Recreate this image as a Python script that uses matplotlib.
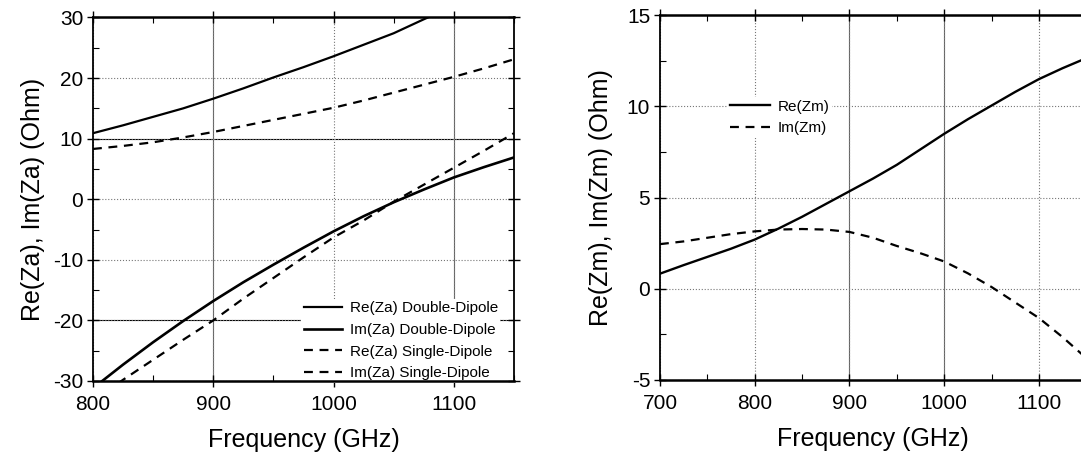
import matplotlib
matplotlib.use("Agg")
import matplotlib.pyplot as plt
from matplotlib.ticker import MultipleLocator

plt.rcParams['font.family'] = ['Liberation Sans', 'DejaVu Sans']
plt.rcParams['axes.unicode_minus'] = False

# left panel: antenna impedance Za
freq_a = [800, 825, 850, 875, 900, 925, 950, 975, 1000, 1025, 1050, 1075, 1100, 1125, 1150]
re_za_double = [10.9, 12.2, 13.6, 15.0, 16.6, 18.3, 20.1, 21.8, 23.6, 25.5, 27.4, 29.7, 31.9, 34.1, 36.4]
im_za_double = [-31.2, -27.3, -23.6, -20.1, -16.8, -13.7, -10.8, -8.0, -5.3, -2.8, -0.5, 1.6, 3.6, 5.3, 6.9]
re_za_single = [8.3, 8.8, 9.4, 10.2, 11.1, 12.1, 13.1, 14.1, 15.1, 16.3, 17.6, 18.9, 20.2, 21.6, 23.1]
im_za_single = [-33.4, -29.8, -26.5, -23.2, -20.0, -16.4, -13.0, -9.6, -6.3, -3.5, -0.4, 2.4, 5.2, 8.0, 10.9]
labels_a = ['Re(Za) Double-Dipole', 'Im(Za) Double-Dipole',
            'Re(Za) Single-Dipole', 'Im(Za) Single-Dipole']

# right panel: mutual impedance Zm
freq_m = [700, 725, 750, 775, 800, 825, 850, 875, 900, 925, 950, 975, 1000, 1025, 1050, 1075, 1100, 1125, 1150]
re_zm = [0.83, 1.3, 1.75, 2.2, 2.7, 3.3, 3.95, 4.65, 5.35, 6.05, 6.8, 7.65, 8.5, 9.3, 10.05, 10.8, 11.5, 12.1, 12.65]
im_zm = [2.45, 2.6, 2.8, 3.0, 3.15, 3.25, 3.28, 3.25, 3.12, 2.8, 2.35, 1.95, 1.5, 0.85, 0.1, -0.75, -1.6, -2.65, -3.8]
labels_m = ['Re(Zm)', 'Im(Zm)']

fig = plt.figure(figsize=(10.81, 4.54), dpi=100)
ax1 = fig.add_axes([0.0860, 0.1608, 0.3895, 0.8007])
ax2 = fig.add_axes([0.6105, 0.1630, 0.3944, 0.8033])

dash = (0, (4, 3))


def style(ax, right=True):
    for side in ['top', 'bottom', 'left', 'right']:
        ax.spines[side].set_linewidth(1.3)
    ax.spines['top'].set_linewidth(1.8)
    ax.spines['bottom'].set_linewidth(1.8)
    ax.tick_params(which='major', direction='inout', length=8, width=1.0,
                   labelsize=15, top=True, right=right)
    ax.tick_params(which='minor', direction='in', length=4, width=0.8,
                   top=True, right=right)
    ax.tick_params(axis='x', which='major', pad=6)
    ax.tick_params(axis='y', which='major', pad=3)
    ax.grid(True, which='major', color='#777777', linestyle=':', linewidth=0.8)


def legend(ax, anchor, handlelength):
    leg = ax.legend(loc='upper left', bbox_to_anchor=anchor, frameon=True,
                    fontsize=11, handlelength=handlelength, handletextpad=0.5,
                    labelspacing=0.5, borderpad=0.15, borderaxespad=0,
                    fancybox=False, framealpha=1)
    leg.get_frame().set_edgecolor('none')
    leg.get_frame().set_facecolor('white')
    leg.set_zorder(2.2)  # under the spines and ticks


# left
ax1.plot(freq_a, re_za_double, color='black', lw=1.6, label=labels_a[0])
ax1.plot(freq_a, im_za_double, color='black', lw=1.9, label=labels_a[1])
ax1.plot(freq_a, re_za_single, color='black', lw=1.6, linestyle=dash, label=labels_a[2])
ax1.plot(freq_a, im_za_single, color='black', lw=1.6, linestyle=dash, label=labels_a[3])
ax1.set_xlim(800, 1150)
ax1.set_ylim(-30, 30)
ax1.xaxis.set_major_locator(MultipleLocator(100))
ax1.xaxis.set_minor_locator(MultipleLocator(50))
ax1.yaxis.set_major_locator(MultipleLocator(10))
ax1.yaxis.set_minor_locator(MultipleLocator(5))
style(ax1)
# scanned grid: some lines come out solid
ax1.axhline(10, color='black', lw=0.8, zorder=1)
ax1.axhline(-20, color='black', lw=0.8, zorder=1)
ax1.axvline(900, color='#666666', lw=0.8, zorder=1)
ax1.axvline(1100, color='#666666', lw=0.8, zorder=1)
ax1.set_xlabel('Frequency (GHz)', fontsize=18, labelpad=10)
ax1.set_ylabel('Re(Za), Im(Za) (Ohm)', fontsize=18, labelpad=6)
legend(ax1, (0.495, 0.225), 2.5)

# right
ax2.plot(freq_m, re_zm, color='black', lw=1.7, label=labels_m[0])
ax2.plot(freq_m, im_zm, color='black', lw=1.6, linestyle=dash, label=labels_m[1])
ax2.set_xlim(700, 1150)
ax2.set_ylim(-5, 15)
ax2.xaxis.set_major_locator(MultipleLocator(100))
ax2.xaxis.set_minor_locator(MultipleLocator(50))
ax2.yaxis.set_major_locator(MultipleLocator(5))
ax2.yaxis.set_minor_locator(MultipleLocator(2.5))
style(ax2, right=False)
ax2.axvline(900, color='#666666', lw=0.8, zorder=1)
ax2.axvline(1000, color='#666666', lw=0.8, zorder=1)
ax2.set_xlabel('Frequency (GHz)', fontsize=18, labelpad=10)
ax2.set_ylabel('Re(Zm), Im(Zm) (Ohm)', fontsize=18, labelpad=10)
legend(ax2, (0.16, 0.775), 2.6)

fig.savefig('out.png', dpi=100)
